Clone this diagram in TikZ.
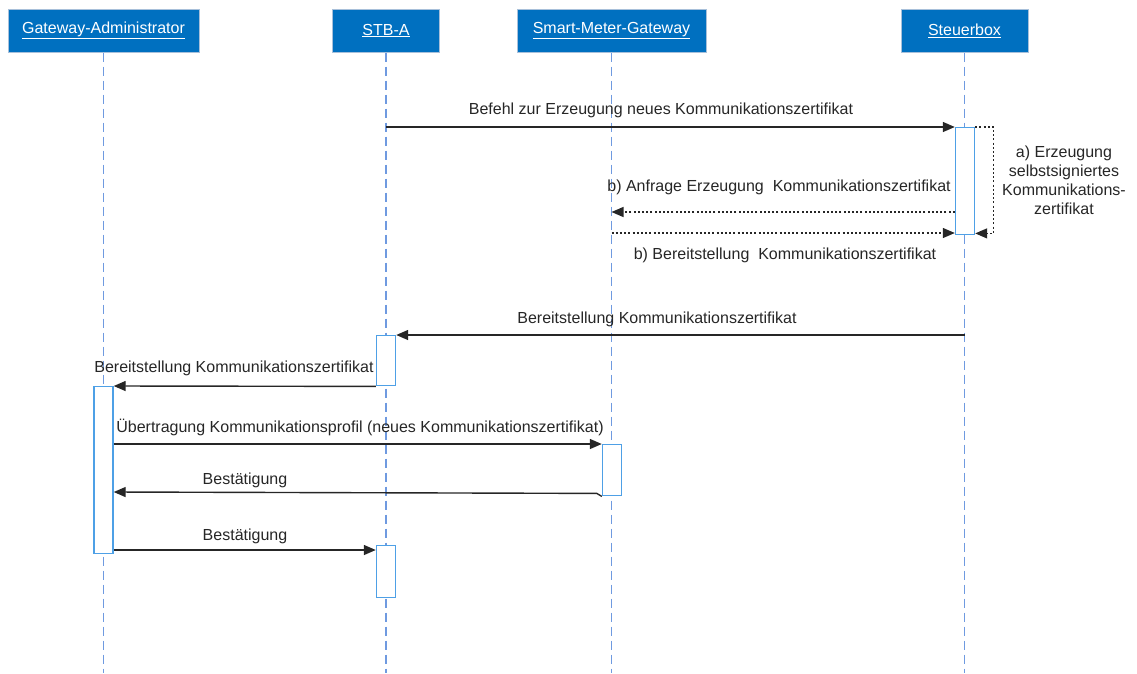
\documentclass[tikz,border=0pt]{standalone}
\usepackage{fontspec}
\setmainfont{Liberation Sans}
\usetikzlibrary{arrows.meta}
\definecolor{hdrblue}{HTML}{0070C0}
\definecolor{hdrline}{HTML}{A8C0DA}
\definecolor{lifeblue}{HTML}{6F9AE0}
\definecolor{actblue}{HTML}{4EA0E6}
\definecolor{txt}{HTML}{262626}
\begin{document}
\begin{tikzpicture}[x=1pt,y=-1pt,
  font=\fontsize{16}{19}\selectfont,
  hdr/.style={draw=hdrline, line width=1pt, fill=hdrblue, text=white,
    minimum height=43pt, inner sep=0pt},
  life/.style={draw=lifeblue, line width=1.5pt, dash pattern=on 9pt off 5pt},
  act/.style={draw=actblue, line width=1.4pt, fill=white, minimum width=19pt,
    inner sep=0pt, anchor=north},
  msg/.style={draw=txt, line width=1.4pt, -{Triangle[length=12pt,width=10pt]}},
  dotmsg/.style={msg, line width=1.3pt, dash pattern=on 2pt off 2.2pt},
  lbl/.style={text=txt, inner sep=0pt}]
\useasboundingbox (0,0) rectangle (1137,673);

% participants
\node[hdr, minimum width=191pt] (ga)   at (103.5,30.5) {\underline{Gateway-Administrator}};
\node[hdr, minimum width=107pt] (stb)  at (386,30.5)   {\underline{STB-A}};
\node[hdr, minimum width=189pt] (smgw) at (611.5,30.5) {\underline{Smart-Meter-Gateway}};
\node[hdr, minimum width=127pt] (sb)   at (964.5,30.5) {\underline{Steuerbox}};

% lifelines
\coordinate (bottom) at (0,673);
\draw[life] (ga.south)   -- (ga.south |- bottom);
\draw[life] (stb.south)  -- (stb.south |- bottom);
\draw[life] (smgw.south) -- (smgw.south |- bottom);
\draw[life] (sb.south)   -- (sb.south |- bottom);

% activations
\node[act, minimum height=107pt] (sb1)   at (965,127)   {};
\node[act, minimum height=50pt]  (stb1)  at (386,335)   {};
\node[act, minimum height=167pt] (ga1)   at (103.5,386) {};
\node[act, minimum height=51pt]  (smgw1) at (612,444)   {};
\node[act, minimum height=52pt]  (stb2)  at (386,545)   {};

% message rows
\coordinate (r212) at (0,212);
\coordinate (r233) at (0,233);
\coordinate (r492) at (0,492);
\coordinate (r550) at (0,550);

\draw[msg] (stb.south |- sb1.north west) -- (sb1.north west);
\node[lbl] (l1) at (661,110) {Befehl zur Erzeugung neues Kommunikationszertifikat};

\draw[dotmsg] (sb1.north east) -- ++(18,0) |- ([yshift=2pt]sb1.south east);
\node[lbl, align=center] (l2) at (1064,180)
  {a) Erzeugung\\selbstsigniertes\\Kommunikations-\\zertifikat};

\draw[dotmsg] (sb1.west |- r212) -- (smgw.south |- r212);
\node[lbl] (l3) at (779,187) {b) Anfrage Erzeugung\ \ Kommunikationszertifikat};

\draw[dotmsg] (smgw.south |- r233) -- (sb1.west |- r233);
\node[lbl] (l4) at (785,255) {b) Bereitstellung\ \ Kommunikationszertifikat};

\draw[msg] (sb.south |- stb1.north east) -- (stb1.north east);
\node[lbl] (l5) at (657,319) {Bereitstellung Kommunikationszertifikat};

\draw[msg] (stb1.south west) -- (ga1.north east);
\node[lbl] (l6) at (234,368) {Bereitstellung Kommunikationszertifikat};

\draw[msg] (ga1.east |- smgw1.north west) -- (smgw1.north west);
\node[lbl] (l7) at (360,427) {Übertragung Kommunikationsprofil (neues Kommunikationszertifikat)};

\draw[msg] (smgw1.south west) -- ++(-5,-3) -- (ga1.east |- r492);
\node[lbl] (l8) at (245,480) {Bestätigung};

\draw[msg] (ga1.east |- r550) -- (stb2.west |- r550);
\node[lbl] (l9) at (245,536) {Bestätigung};
\end{tikzpicture}
\end{document}
